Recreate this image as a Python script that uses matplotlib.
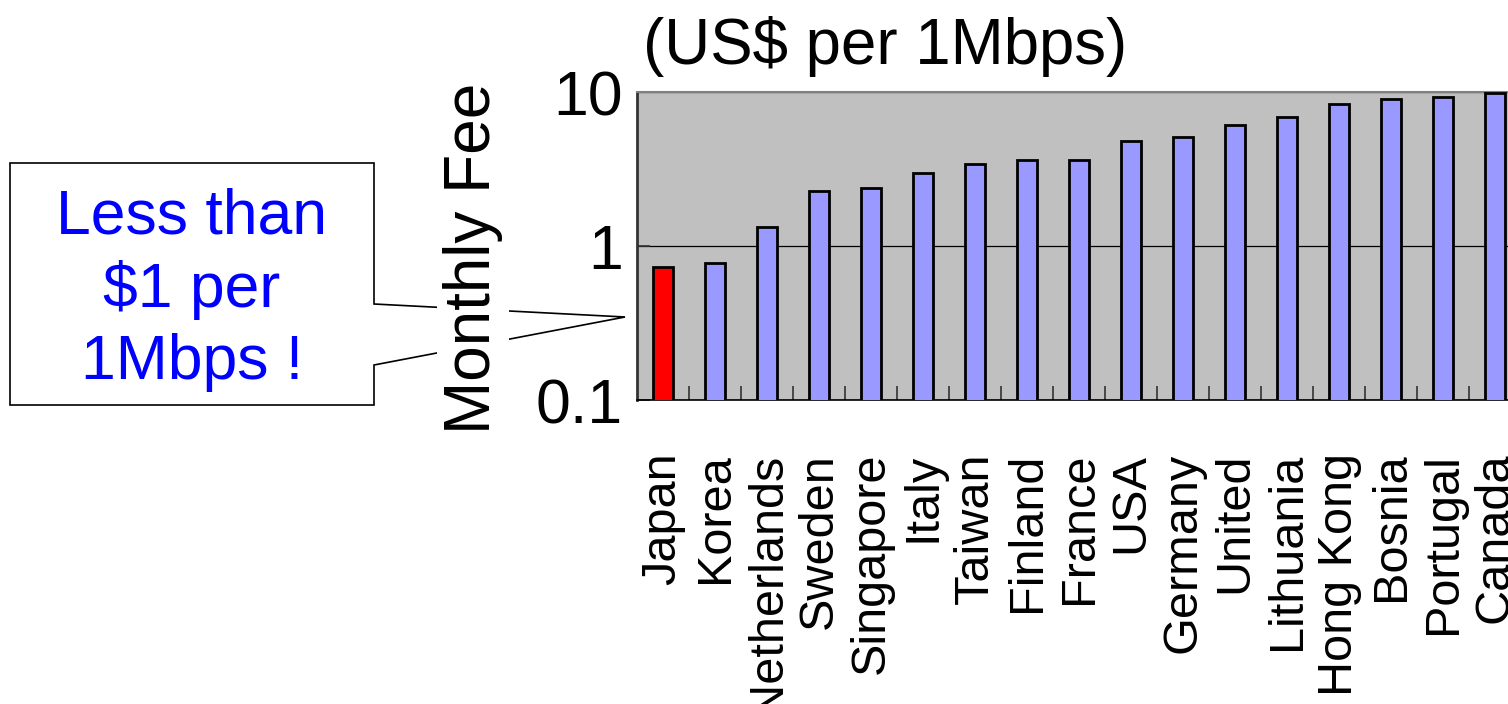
import matplotlib.pyplot as plt
from matplotlib.patches import Polygon

# monthly broadband fee, US$ per 1Mbps
countries = ['Japan', 'Korea', 'Netherlands', 'Sweden', 'Singapore', 'Italy',
             'Taiwan', 'Finland', 'France', 'USA', 'Germany', 'United',
             'Lithuania', 'Hong Kong', 'Bosnia', 'Portugal', 'Canada']
fees = [0.73, 0.78, 1.33, 2.28, 2.38, 2.98, 3.41, 3.62, 3.62, 4.81, 5.10,
        6.10, 6.88, 8.32, 9.04, 9.32, 9.8]
highlight = 'Japan'

y_ticks = [0.1, 1, 10]
y_tick_labels = ['0.1', '1', '10']

FONT = 'Liberation Sans'
W, H = 1508, 704

plt.rcParams['font.family'] = [FONT, 'DejaVu Sans']


def px(x, y):
    # pixel position (from top-left) -> figure fraction
    return x / W, 1 - y / H


fig = plt.figure(figsize=(W / 100, H / 100), dpi=100)
fig.patch.set_facecolor('white')

# plot area runs on past the right edge of the figure
col_w = 52
left, top = px(637, 92)
_, bottom = px(637, 400)
ax = fig.add_axes([left, bottom, len(countries) * col_w / W, top - bottom])
ax.set_facecolor('#C0C0C0')
ax.set_axisbelow(True)

x = range(len(countries))
colors = ['#FF0000' if c == highlight else '#9999FF' for c in countries]
ax.bar(x, fees, width=0.39, color=colors, edgecolor='black', linewidth=2,
       zorder=3)

ax.set_yscale('log')
ax.set_ylim(0.1, 10)
ax.set_xlim(-0.5, len(countries) - 0.5)
ax.set_yticks(y_ticks)
ax.set_yticklabels(y_tick_labels, fontsize=45)
ax.yaxis.set_minor_locator(plt.NullLocator())
ax.tick_params(axis='y', direction='in', length=9, width=1.2,
               color='#333333', pad=10)
ax.grid(axis='y', which='major', color='black', linewidth=0.9)

ax.set_xticks(list(x))
ax.set_xticklabels(countries, rotation=90, fontsize=35, va='top',
                   ha='center')
ax.set_xticks([i + 0.5 for i in x], minor=True)
ax.tick_params(axis='x', which='major', length=0, pad=38)
ax.tick_params(axis='x', which='minor', direction='in', length=10,
               width=1.2, color='#333333')

ax.spines['left'].set_color('#333333')
ax.spines['left'].set_linewidth(2)
ax.spines['top'].set_color('#808080')
ax.spines['top'].set_linewidth(1.5)
ax.spines['bottom'].set_color('black')
ax.spines['bottom'].set_linewidth(1.2)

# unit title and y label
tx, ty = px(643, 64)
fig.text(tx, ty, '(US$ per 1Mbps)', fontsize=45.8, ha='left', va='baseline')
lx, ly = px(473, 258)
fig.text(lx, ly, 'Monthly Fee', fontsize=46, rotation=90, ha='center',
         va='center', zorder=2,
         bbox=dict(boxstyle='square,pad=0.1', fc='white', ec='none'))

# callout box pointing at the axis
callout = [px(10, 163), px(374, 163), px(374, 304), px(625, 317),
           px(374, 365), px(374, 405), px(10, 405)]
fig.add_artist(Polygon(callout, closed=True, transform=fig.transFigure,
                       facecolor='white', edgecolor='black', linewidth=1.2,
                       zorder=1))
cx, cy = px(192, 290)
fig.text(cx, cy, 'Less than\n$1 per\n1Mbps !', fontsize=45, color='#0000FF',
         ha='center', va='center', multialignment='center', linespacing=1.29,
         zorder=3)

fig.savefig('out.png', dpi=100)
